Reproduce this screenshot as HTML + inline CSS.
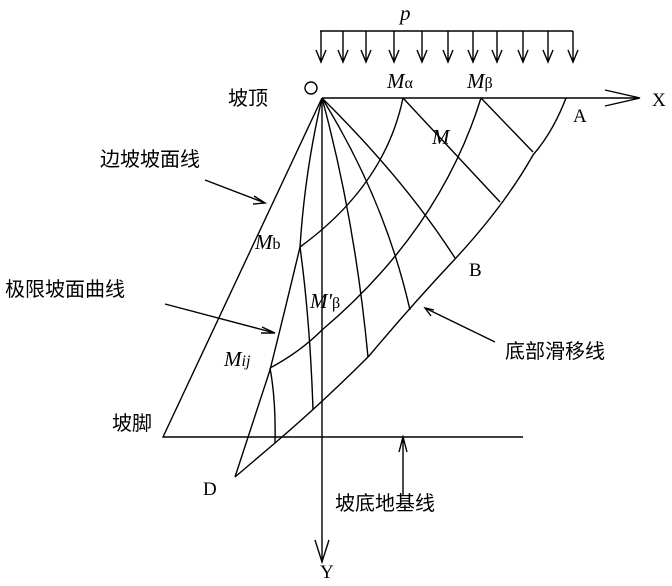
<!DOCTYPE html>
<html><head><meta charset="utf-8"><style>
body{margin:0;background:#fff}
svg text{font-family:"Liberation Serif","Noto Sans CJK SC",serif;fill:#000}
.c{font-family:"Liberation Sans","Noto Sans CJK SC",sans-serif;font-size:20px}
.i{font-style:italic;font-size:21px}
</style></head><body>
<svg width="672" height="581" viewBox="0 0 672 581" xmlns="http://www.w3.org/2000/svg">
<g stroke="#000" stroke-width="1.4" fill="none">
<path d="M320 31 H573"/>
<g id="ar">
<path d="M321 31V62M316 50l5 12 5-12"/>
</g>
<use href="#ar" x="22"/><use href="#ar" x="45"/><use href="#ar" x="73"/><use href="#ar" x="101"/><use href="#ar" x="127"/><use href="#ar" x="152"/><use href="#ar" x="176"/><use href="#ar" x="202"/><use href="#ar" x="227"/><use href="#ar" x="252"/>
<path d="M322 98H640M605 90L640 98L605 106"/>
<path d="M322 98V560M315 540L322 562L329 540"/>
<circle cx="311" cy="88" r="6"/>
<path d="M322 98L163 437H523"/>
<path d="M566 98Q553 132 533 155Q505 205 455 259Q410 307 369 356Q322 403 275 443L235 477"/>
<path d="M322 98Q305 170 300 247Q285 310 270 370L235 477"/>
<path d="M403 98Q385 185 300 247"/>
<path d="M481 98Q440 230 322 330Q300 352 270 368"/>
<path d="M403 98L500 202M481 98L533 152"/>
<path d="M322 98Q405 180 455 258"/>
<path d="M322 98Q385 200 410 310"/>
<path d="M322 98Q355 220 368 357"/>
<path d="M300 247Q310 320 313 410"/>
<path d="M270 368Q276 400 275 443"/>
<path d="M205 180L265 203M254 196l11 7-12 1"/>
<path d="M165 304L275 333M262 327l13 6-14 0"/>
<path d="M495 342L425 308M434 310l-9-2 6 8"/>
<path d="M403 495V437M399 452l4-15 4 15"/>
</g>
<text x="400" y="20" class="i">p</text>
<text x="387" y="88" class="i">M<tspan font-style="normal" font-size="16">α</tspan></text>
<text x="467" y="88" class="i">M<tspan font-style="normal" font-size="16">β</tspan></text>
<text x="432" y="144" class="i">M</text>
<text x="255" y="249" class="i">M<tspan font-style="normal" font-size="16">b</tspan></text>
<text x="310" y="308" class="i">M'<tspan font-style="normal" font-size="16">β</tspan></text>
<text x="224" y="366" class="i">M<tspan font-size="16">ij</tspan></text>
<text x="573" y="122" font-size="19">A</text>
<text x="469" y="276" font-size="19">B</text>
<text x="203" y="495" font-size="19">D</text>
<text x="652" y="106" font-size="19">X</text>
<text x="320" y="578" font-size="19">Y</text>
<text x="228" y="105" class="c">坡顶</text>
<text x="100" y="166" class="c">边坡坡面线</text>
<text x="5" y="296" class="c">极限坡面曲线</text>
<text x="505" y="358" class="c">底部滑移线</text>
<text x="112" y="430" class="c">坡脚</text>
<text x="335" y="510" class="c">坡底地基线</text>
</svg>
</body></html>
